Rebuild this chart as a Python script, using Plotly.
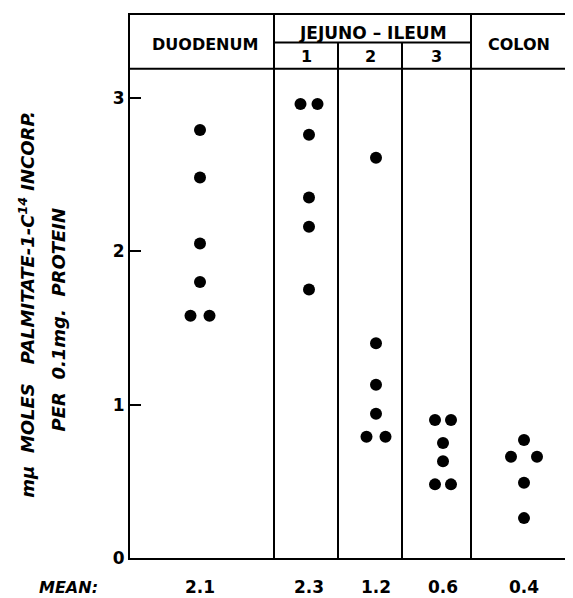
import plotly.graph_objects as go

# ---- data ----
groups = ["DUODENUM", "1", "2", "3", "COLON"]
duodenum = [2.79, 2.48, 2.05, 1.80, 1.58, 1.58]
jejuno1 = [2.96, 2.96, 2.76, 2.35, 2.16, 1.75]
jejuno2 = [2.61, 1.40, 1.13, 0.94, 0.79, 0.79]
jejuno3 = [0.90, 0.90, 0.75, 0.63, 0.48, 0.48]
colon = [0.77, 0.66, 0.66, 0.49, 0.26]
means = ["2.1", "2.3", "1.2", "0.6", "0.4"]
y_ticks = [0, 1, 2, 3]

# ---- layout helpers (positions, not data) ----
bounds = [0, 144, 208, 272, 341, 443]           # column borders on x scale
centers = [70, 179, 246, 313, 394]              # dot column centres
offsets = [[0, 0, 0, 0, -1, 1],
           [-1, 1, 0, 0, 0, 0],
           [0, 0, 0, 0, -1, 1],
           [-1, 1, 0, 0, -1, 1],
           [0, -1, 1, 0, 0]]
spacing = [9.5, 8.5, 9.5, 8, 13]
series = [duodenum, jejuno1, jejuno2, jejuno3, colon]

YMAX = 3.54
Y_HEAD = 3.19
Y_JEJ = 3.36

fig = go.Figure()
for vals, c, offs, sp in zip(series, centers, offsets, spacing):
    fig.add_trace(go.Scatter(
        x=[c + o * sp for o in offs], y=vals, mode="markers",
        marker=dict(size=12, color="black"), showlegend=False, hoverinfo="y"))

line = dict(color="black", width=2)
shapes = []
for b in (bounds[1], bounds[4]):
    shapes.append(dict(type="line", x0=b, x1=b, y0=0, y1=YMAX, xref="x", yref="y", line=line))
for b in (bounds[2], bounds[3]):
    shapes.append(dict(type="line", x0=b, x1=b, y0=0, y1=Y_JEJ, xref="x", yref="y", line=line))
shapes.append(dict(type="line", x0=0, x1=bounds[5], y0=Y_HEAD, y1=Y_HEAD, xref="x", yref="y", line=line))
shapes.append(dict(type="line", x0=bounds[1], x1=bounds[4], y0=Y_JEJ, y1=Y_JEJ, xref="x", yref="y", line=line))

hfont = dict(family="DejaVu Sans", size=16, color="black", weight="bold")
ann = []
def A(**kw):
    d = dict(showarrow=False, xanchor="center", yanchor="middle")
    d.update(kw)
    ann.append(d)

A(x=(bounds[0] + bounds[1]) / 2 + 3, y=3.345, xref="x", yref="y", text="DUODENUM", font=hfont)
A(x=(bounds[1] + bounds[4]) / 2, y=3.42, xref="x", yref="y", text="JEJUNO – ILEUM",
  font=dict(family="DejaVu Sans", size=17, color="black", weight="bold"))
for i in (1, 2, 3):
    A(x=(bounds[i] + bounds[i + 1]) / 2, y=3.267, xref="x", yref="y", text=groups[i], font=hfont)
A(x=(bounds[4] + bounds[5]) / 2 - 3, y=3.345, xref="x", yref="y", text="COLON", font=hfont)

mfont = dict(family="DejaVu Sans", size=17, color="black", weight="bold")
A(x=-0.138, y=-0.054, xref="paper", yref="paper", text="MEAN:",
  font=dict(family="DejaVu Sans", size=16, color="black", weight="bold", style="italic"))
for c, m in zip(centers, means):
    A(x=c, y=-0.054, xref="x", yref="paper", text=m, font=mfont)

lfont = dict(family="DejaVu Sans", size=18, color="black", weight="bold", style="italic")
A(x=-0.232, y=0.467, xref="paper", yref="paper",
  text="mμ  MOLES   PALMITATE-1-C<sup>14</sup> INCORP.", textangle=-90, font=lfont)
A(x=-0.162, y=0.438, xref="paper", yref="paper",
  text="PER  0.1mg.  PROTEIN", textangle=-90, font=lfont)

fig.update_layout(
    width=565, height=590,
    margin=dict(l=122, r=0, t=7, b=40),
    plot_bgcolor="white", paper_bgcolor="white",
    shapes=shapes, annotations=ann,
    xaxis=dict(range=[0, bounds[5]], showgrid=False, zeroline=False, showticklabels=False,
               ticks="", showline=True, linecolor="black", linewidth=2, mirror=True),
    yaxis=dict(range=[0, YMAX], showgrid=False, zeroline=False, tickvals=y_ticks,
               ticks="inside", ticklen=11, tickwidth=2, tickcolor="black",
               showline=True, linecolor="black", linewidth=2,
               tickfont=dict(family="DejaVu Sans", size=17, color="black", weight="bold")),
)
fig.write_html("out.html")
